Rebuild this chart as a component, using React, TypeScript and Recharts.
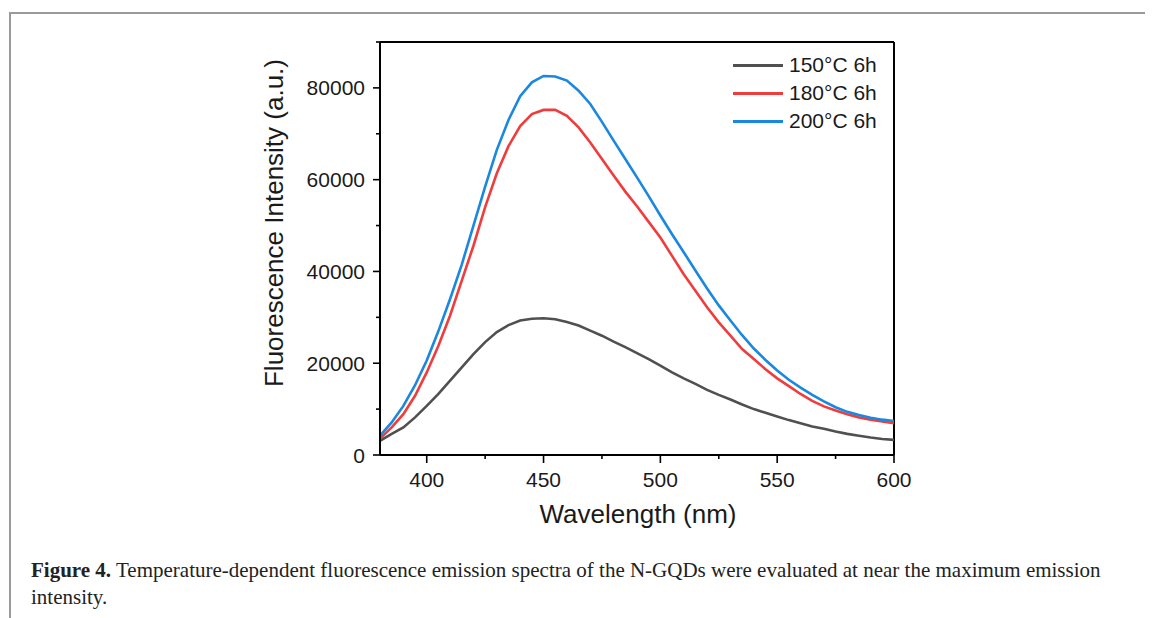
import React from "react";
import { LineChart, Line, XAxis, YAxis, ReferenceLine } from "recharts";

const wavelengths = [
  380, 385, 390, 395, 400, 405, 410, 415, 420, 425, 430, 435, 440, 445, 450,
  455, 460, 465, 470, 475, 480, 485, 490, 495, 500, 505, 510, 515, 520, 525,
  530, 535, 540, 545, 550, 555, 560, 565, 570, 575, 580, 585, 590, 595, 600,
];

const t150 = [
  3100, 4600, 6000, 8200, 10700, 13300, 16200, 19100, 22000, 24600, 26800,
  28300, 29300, 29700, 29800, 29600, 29000, 28200, 27100, 26000, 24700, 23500,
  22200, 20900, 19500, 18000, 16700, 15500, 14200, 13100, 12100, 11000, 10000,
  9200, 8400, 7600, 6900, 6200, 5700, 5100, 4600, 4200, 3800, 3500, 3300,
];

const t180 = [
  3600, 6000, 8900, 12900, 18000, 23800, 30400, 38000, 45600, 54000, 61400,
  67300, 71700, 74300, 75200, 75200, 73900, 71400, 68100, 64500, 60900, 57400,
  54200, 50800, 47400, 43400, 39400, 35800, 32200, 28900, 26000, 23100, 20900,
  18700, 16700, 15000, 13300, 11800, 10600, 9700, 8900, 8200, 7700, 7300, 6900,
];

const t200 = [
  4200, 7100, 10700, 15200, 20600, 27000, 34000, 41500, 50000, 58500, 66500,
  73000, 78200, 81200, 82600, 82500, 81600, 79400, 76500, 72600, 68500, 64500,
  60500, 56400, 52200, 48100, 44200, 40200, 36300, 32600, 29300, 26100, 23200,
  20700, 18400, 16400, 14700, 13100, 11700, 10400, 9400, 8700, 8100, 7700, 7400,
];

const xTicks = [400, 425, 450, 475, 500, 525, 550, 575, 600];
const xMajor = [400, 450, 500, 550, 600];
const yTicks = [0, 10000, 20000, 30000, 40000, 50000, 60000, 70000, 80000, 90000];
const yMajor = [0, 20000, 40000, 60000, 80000];

const seriesNames = ["150\u00b0C 6h", "180\u00b0C 6h", "200\u00b0C 6h"];
const seriesColors = ["#505050", "#f03c3c", "#1a87e0"];

const data = wavelengths.map((w, i) => ({
  w,
  a: t150[i],
  b: t180[i],
  c: t200[i],
}));

const sans = "'Liberation Sans', Arial, sans-serif";

function YTick(props: any) {
  const { x, y, payload } = props;
  const major = yMajor.includes(payload.value);
  return (
    <g>
      <line x1={x} x2={x - (major ? 7 : 4)} y1={y} y2={y} stroke="#000" strokeWidth={1.6} />
      {major && (
        <text
          x={x - 15}
          y={y}
          textAnchor="end"
          dominantBaseline="central"
          fontSize={21}
          fontFamily={sans}
          fill="#1a1a1a"
        >
          {payload.value}
        </text>
      )}
    </g>
  );
}

function XTick(props: any) {
  const { x, y, payload } = props;
  const major = xMajor.includes(payload.value);
  return (
    <g>
      <line x1={x} x2={x} y1={y} y2={y + (major ? 8 : 4)} stroke="#000" strokeWidth={1.6} />
      {major && (
        <text
          x={x}
          y={y + 24}
          textAnchor="middle"
          dominantBaseline="central"
          fontSize={21}
          fontFamily={sans}
          fill="#1a1a1a"
        >
          {payload.value}
        </text>
      )}
    </g>
  );
}

export default function App() {
  return (
    <div style={{ position: "relative", width: 1145, height: 610, overflow: "hidden" }}>
      <div style={{ position: "absolute", left: 1, top: 4, right: 0, height: 2, background: "#9a9a9a" }} />
      <div style={{ position: "absolute", left: 1, top: 4, bottom: 0, width: 2, background: "#9a9a9a" }} />

      <div style={{ position: "absolute", left: 0, top: 0 }}>
        <LineChart
          width={1145}
          height={560}
          data={data}
          margin={{ top: 34, right: 259, bottom: 53, left: 272 }}
        >
          <XAxis
            dataKey="w"
            type="number"
            domain={[380, 600]}
            ticks={xTicks}
            interval={0}
            tickSize={0}
            tickMargin={0}
            tick={<XTick />}
            height={60}
            stroke="#000"
            strokeWidth={2}
            allowDataOverflow
          />
          <YAxis
            domain={[0, 90000]}
            ticks={yTicks}
            interval={0}
            tickSize={0}
            tickMargin={0}
            tick={<YTick />}
            width={100}
            stroke="#000"
            strokeWidth={2}
            allowDataOverflow
          />
          <ReferenceLine y={90000} stroke="#000" strokeWidth={2} />
          <ReferenceLine x={600} stroke="#000" strokeWidth={2} />
          <Line dataKey="a" name={seriesNames[0]} stroke={seriesColors[0]} strokeWidth={2.6} dot={false} isAnimationActive={false} />
          <Line dataKey="b" name={seriesNames[1]} stroke={seriesColors[1]} strokeWidth={2.6} dot={false} isAnimationActive={false} />
          <Line dataKey="c" name={seriesNames[2]} stroke={seriesColors[2]} strokeWidth={2.6} dot={false} isAnimationActive={false} />
        </LineChart>
      </div>

      {/* legend */}
      <div style={{ position: "absolute", left: 725, top: 43, fontFamily: sans, fontSize: 21, color: "#1a1a1a" }}>
        {seriesNames.map((n, i) => (
          <div key={n} style={{ display: "flex", alignItems: "center", height: 28 }}>
            <div style={{ width: 50, height: 3, background: seriesColors[i], marginRight: 6 }} />
            <span>{n}</span>
          </div>
        ))}
      </div>

      {/* axis titles */}
      <div
        style={{
          position: "absolute",
          left: 266 - 200,
          top: 215 - 16,
          width: 400,
          textAlign: "center",
          fontFamily: sans,
          fontSize: 26,
          lineHeight: "32px",
          color: "#1a1a1a",
          transform: "rotate(-90deg)",
        }}
      >
        Fluorescence Intensity (a.u.)
      </div>
      <div
        style={{
          position: "absolute",
          left: 630 - 200,
          top: 506 - 16,
          width: 400,
          textAlign: "center",
          fontFamily: sans,
          fontSize: 26,
          lineHeight: "32px",
          color: "#1a1a1a",
        }}
      >
        Wavelength (nm)
      </div>

      {/* caption */}
      <div
        style={{
          position: "absolute",
          left: 23,
          top: 549,
          fontFamily: "'Liberation Serif', 'Times New Roman', serif",
          fontSize: 21,
          lineHeight: "27px",
          color: "#222",
          whiteSpace: "nowrap",
        }}
      >
        <b>Figure 4.</b> Temperature-dependent fluorescence emission spectra of the N-GQDs were evaluated at near the maximum emission
        <br />
        intensity.
      </div>
    </div>
  );
}
